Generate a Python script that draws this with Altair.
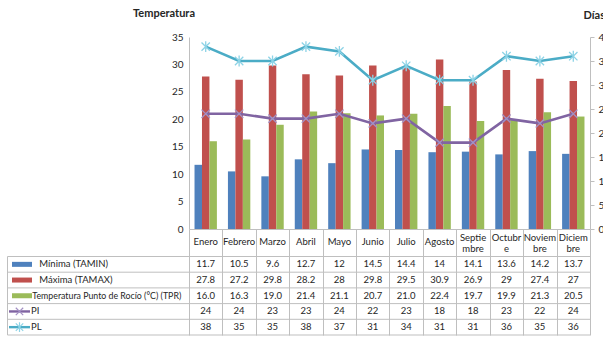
import altair as alt
import pandas as pd

# Monthly climate series
meses = ["Enero", "Febrero", "Marzo", "Abril", "Mayo", "Junio", "Julio",
         "Agosto", "Septiembre", "Octubre", "Noviembre", "Diciembre"]
tamin = [11.7, 10.5, 9.6, 12.7, 12, 14.5, 14.4, 14, 14.1, 13.6, 14.2, 13.7]
tamax = [27.8, 27.2, 29.8, 28.2, 28, 29.8, 29.5, 30.9, 26.9, 29, 27.4, 27]
tpr = [16.0, 16.3, 19.0, 21.4, 21.1, 20.7, 21.0, 22.4, 19.7, 19.9, 21.3, 20.5]
pi = [24, 24, 23, 23, 24, 22, 23, 18, 18, 23, 22, 24]
pl = [38, 35, 35, 38, 37, 31, 34, 31, 31, 36, 35, 36]

series = ["Mínima (TAMIN)", "Máxima (TAMAX)",
          "Temperatura Punto de Rocío (°C) (TPR)", "PI", "PL"]
valores = [tamin, tamax, tpr, pi, pl]

# Wrapped month headings in the data table
encabezados = {"Septiembre": ["Septie", "mbre"], "Octubre": ["Octubr", "e"],
               "Noviembre": ["Noviem", "bre"], "Diciembre": ["Diciem", "bre"]}

colores = ["#4F81BD", "#C0504D", "#9BBB59", "#8064A2", "#4BACC6"]
marcador_color = ["#A491C4", "#8DD3E6"]
GRIS = "#BFBFBF"
TEXTO = "#262626"
FUENTE = "Lato"

df = pd.DataFrame([
    {"mes": m, "serie": s, "valor": v[i]}
    for s, v in zip(series, valores)
    for i, m in enumerate(meses)
])

df_cab = pd.DataFrame({
    "mes": meses,
    "cab": ["\n".join(encabezados.get(m, [m])) for m in meses],
    "lineas": [len(encabezados.get(m, [m])) for m in meses],
})

W, H = 401, 192
FILA0, FILA_H = 219.5, 15.7          # table body rows below the plot
IZQ = -181.5                          # left edge of the table
filas_y = [FILA0 + FILA_H * (k + 0.5) for k in range(5)]
bordes_y = [FILA0 + FILA_H * k for k in range(6)]

x_enc = alt.X(
    "mes:N", sort=meses,
    scale=alt.Scale(domain=meses, paddingInner=0, paddingOuter=0),
    axis=alt.Axis(title=None, orient="bottom", domainColor=GRIS, ticks=True,
                  tickBand="extent", tickSize=bordes_y[-1] - H, tickColor=GRIS,
                  labels=False),
)

color_enc = alt.Color("serie:N", scale=alt.Scale(domain=series, range=colores),
                      legend=None)

barras = alt.Chart(df).transform_filter(
    alt.FieldOneOfPredicate(field="serie", oneOf=series[:3])
).mark_bar().encode(
    x=x_enc,
    xOffset=alt.XOffset("serie:N", sort=series[:3],
                        scale=alt.Scale(domain=series[:3], paddingOuter=0.74,
                                        paddingInner=0)),
    y=alt.Y("valor:Q", scale=alt.Scale(domain=[0, 35]),
            axis=alt.Axis(values=list(range(0, 36, 5)), grid=False, ticks=False,
                          domainColor=GRIS, labelPadding=6, labelFontSize=10,
                          labelColor=TEXTO, title="Temperatura", titleAngle=0,
                          titleAlign="center", titleBaseline="middle",
                          titleX=-25.5, titleY=-23.5, titleFontSize=11,
                          titleFontWeight="bold", titleColor=TEXTO)),
    color=color_enc,
)

y_dias = alt.Y("valor:Q", scale=alt.Scale(domain=[0, 40]),
               axis=alt.Axis(orient="right", values=list(range(0, 41, 5)),
                             grid=False, ticks=True, tickSize=4, tickColor=GRIS,
                             domainColor=GRIS, labelPadding=4, labelFontSize=10,
                             labelColor=TEXTO, title="Días", titleAngle=0,
                             titleAlign="left", titleBaseline="middle",
                             titleX=-7, titleY=-21.5, titleFontSize=11,
                             titleFontWeight="bold", titleColor=TEXTO))

dias = alt.Chart(df).transform_filter(
    alt.FieldOneOfPredicate(field="serie", oneOf=series[3:])
)

# Marker paths: "x" for PI, asterisk for PL
forma_x = "M-1,-1L1,1M-1,1L1,-1"
forma_ast = "M-1,-1L1,1M-1,1L1,-1M0,-1.3L0,1.3"

lineas = dias.mark_line(strokeWidth=2.6).encode(x=x_enc, y=y_dias, color=color_enc)
puntos = dias.mark_point(filled=False, strokeWidth=1.3, size=70, opacity=1).encode(
    x=x_enc, y=y_dias,
    shape=alt.Shape("serie:N", scale=alt.Scale(domain=series[3:],
                                               range=[forma_x, forma_ast]),
                    legend=None),
    stroke=alt.Stroke("serie:N", scale=alt.Scale(domain=series[3:],
                                                 range=marcador_color),
                      legend=None),
)
capa_dias = alt.layer(lineas, puntos)

# Month headings of the data table (one- and two-line cells)
capas_tabla = [
    alt.Chart(df_cab).transform_filter(alt.datum.lineas == 1).mark_text(
        fontSize=9.5, baseline="middle", color=TEXTO
    ).encode(x=x_enc, y=alt.value(H + 13), text="cab:N"),
    alt.Chart(df_cab).transform_filter(alt.datum.lineas == 2).mark_text(
        fontSize=9.5, baseline="middle", color=TEXTO, lineBreak="\n", lineHeight=11
    ).encode(x=x_enc, y=alt.value(H + 9), text="cab:N"),
]

# Data table: values under each month
for k, s in enumerate(series):
    txt_enc = alt.Text("valor:Q", format=".1f") if k == 2 else alt.Text("valor:Q")
    capas_tabla.append(
        alt.Chart(df).transform_filter(alt.datum.serie == s).mark_text(
            fontSize=9.5, baseline="middle", color=TEXTO
        ).encode(x=x_enc, y=alt.value(filas_y[k]), text=txt_enc)
    )

# Table grid
uno = pd.DataFrame({"k": [0]})
for yb in bordes_y:
    capas_tabla.append(alt.Chart(uno).mark_rule(color=GRIS, strokeWidth=1).encode(
        x=alt.value(IZQ), x2=alt.value(W), y=alt.value(yb)))
capas_tabla.append(alt.Chart(uno).mark_rule(color=GRIS, strokeWidth=1).encode(
    x=alt.value(IZQ), y=alt.value(bordes_y[0]), y2=alt.value(bordes_y[-1])))

# Legend keys in the first table column
texto_x = [-149.7, -149.7, -156.7, -158, -158]
texto_tam = [9.5, 9.5, 8.8, 9.5, 9.5]
for k, s in enumerate(series):
    fila = pd.DataFrame({"serie": [s]})
    capas_tabla.append(alt.Chart(fila).mark_text(
        fontSize=texto_tam[k], align="left", baseline="middle", color=TEXTO
    ).encode(x=alt.value(texto_x[k]), y=alt.value(filas_y[k]), text="serie:N"))
    if k < 3:
        capas_tabla.append(alt.Chart(fila).mark_rule(
            strokeWidth=5, strokeCap="butt", color=colores[k]
        ).encode(x=alt.value(-177), x2=alt.value(-157), y=alt.value(filas_y[k])))
    else:
        capas_tabla.append(alt.Chart(fila).mark_rule(
            strokeWidth=2.4, color=colores[k]
        ).encode(x=alt.value(-180), x2=alt.value(-159), y=alt.value(filas_y[k])))
        capas_tabla.append(alt.Chart(fila).mark_point(
            filled=False, strokeWidth=1.2, size=55, opacity=1,
            shape=[forma_x, forma_ast][k - 3], color=marcador_color[k - 3]
        ).encode(x=alt.value(-169.5), y=alt.value(filas_y[k])))

chart = alt.layer(barras, capa_dias, *capas_tabla).resolve_scale(
    y="independent", color="independent"
).properties(
    width=W, height=H,
    padding={"left": 189, "top": 37, "right": 13, "bottom": 108},
    autosize=alt.AutoSizeParams(type="none"),
).configure(font=FUENTE).configure_view(stroke=None)

chart.save("out.html", embed_options={"renderer": "svg", "actions": False})
